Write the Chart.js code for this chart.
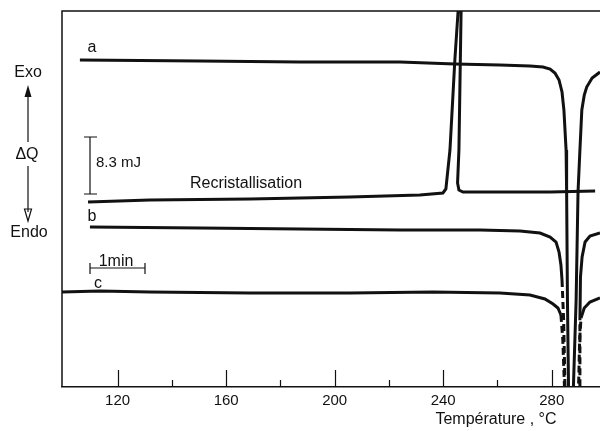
<!DOCTYPE html>
<html><head><meta charset="utf-8">
<script src="https://cdn.jsdelivr.net/npm/chart.js@4"></script>
<style>html,body{margin:0;padding:0;background:#fff}</style>
</head><body>
<canvas id="c" width="600" height="431"></canvas>
<script>
// Temperature (°C) tick values
const majorTicks = [120, 160, 200, 240, 280];
const minorTicks = [140, 180, 220, 260];

// Curves: [temperature °C, heat-flow signal (arbitrary units, Exo up)]
const curveA = [
  [106.1,327],[150.3,326],[187.2,325],[224.1,325],[244.3,323],[260.9,322],[272.0,321],
  [276.8,320],[279.4,318],[281.2,314],[282.7,307],[283.8,295],[284.5,277],[285.3,237],
  [285.5,195],[285.8,87],[286.2,0],[287.1,-33],[288.0,0],[289.0,87],[289.7,195],
  [290.4,237],[291.1,277],[292.0,292],[292.9,300],[294.9,309],[297.8,315]
];
const curveRecrist = [
  [109.1,185],[131.9,187],[168.8,188],[205.6,190],[231.4,192],[239.9,194],[241.0,198],
  [242.5,237],[244.3,327],[245.5,376],[246.2,407],[246.6,376],[245.8,237],[245.3,204],
  [245.8,197],[247.3,195],[260.9,195],[279.4,195],[296.0,196]
];
const curveB = [
  [109.8,160],[150.3,159],[187.2,158],[224.1,157],[253.6,157],[268.3,156],[275.7,154],
  [279.4,150],[281.6,145],[282.7,135],[283.4,122],[283.8,107],[284.4,67],[284.9,0],
  [287.5,-33],[290.1,0],[290.4,67],[290.6,110],[291.2,130],[292.3,145],[294.1,151],[297.8,154]
];
const curveC = [
  [99.5,95],[113.5,96],[131.9,95],[168.8,94],[205.6,94],[236.2,95],[260.9,94],[272.0,92],
  [277.5,88],[280.5,83],[282.3,79],[283.4,72],[284.1,47],[284.7,0],[287.5,-33],
  [289.9,0],[290.3,47],[290.8,69],[292.0,79],[294.1,85],[297.8,89]
];

const INK = '#111';
const toXY = arr => arr.map(p => ({x: p[0], y: p[1]}));
const dashBelow = lim => ({ borderDash: ctx => (ctx.p0.parsed.y < lim && ctx.p1.parsed.y < lim) ? [7,4] : undefined });

const ds = (data, extra) => Object.assign({
  data: toXY(data), showLine: true, borderColor: INK, borderWidth: 3,
  pointRadius: 0, tension: 0, fill: false
}, extra || {});

const decor = {
  id: 'decor',
  afterDraw(chart) {
    const ctx = chart.ctx, a = chart.chartArea, xs = chart.scales.x;
    ctx.save();
    ctx.strokeStyle = INK; ctx.fillStyle = INK; ctx.lineWidth = 1.5;
    // frame: left and top
    ctx.beginPath();
    ctx.moveTo(a.left, a.bottom); ctx.lineTo(a.left, a.top); ctx.lineTo(a.right, a.top);
    ctx.stroke();
    // inward ticks
    ctx.lineWidth = 1.2;
    majorTicks.forEach(v => { const px = Math.round(xs.getPixelForValue(v)) + 0.5;
      ctx.beginPath(); ctx.moveTo(px, a.bottom); ctx.lineTo(px, a.bottom - 17); ctx.stroke(); });
    minorTicks.forEach(v => { const px = Math.round(xs.getPixelForValue(v)) + 0.5;
      ctx.beginPath(); ctx.moveTo(px, a.bottom); ctx.lineTo(px, a.bottom - 7); ctx.stroke(); });

    ctx.textAlign = 'center'; ctx.textBaseline = 'middle';
    ctx.font = '16px "Liberation Sans", Arial, sans-serif';
    ctx.fillText('Température , °C', 496, 420);
    ctx.fillText('Exo', 28, 73);
    ctx.fillText('ΔQ', 27, 155);
    ctx.fillText('Endo', 29, 233);
    ctx.fillText('a', 92, 48);
    ctx.fillText('b', 92, 217);
    ctx.fillText('c', 98, 284);
    ctx.fillText('1min', 116, 262);
    ctx.textAlign = 'left';
    ctx.fillText('Recristallisation', 190, 184);
    ctx.font = '15px "Liberation Sans", Arial, sans-serif';
    ctx.fillText('8.3 mJ', 96, 163);

    // Exo/Endo arrows
    ctx.lineWidth = 1.2;
    ctx.beginPath(); ctx.moveTo(28, 142); ctx.lineTo(28, 94); ctx.stroke();
    ctx.beginPath(); ctx.moveTo(28, 85); ctx.lineTo(24.5, 97); ctx.lineTo(31.5, 97); ctx.closePath(); ctx.fill();
    ctx.beginPath(); ctx.moveTo(28, 166); ctx.lineTo(28, 212); ctx.stroke();
    ctx.beginPath(); ctx.moveTo(28, 221); ctx.lineTo(24.5, 209); ctx.lineTo(31.5, 209); ctx.closePath(); ctx.stroke();

    // energy scale bar
    ctx.beginPath();
    ctx.moveTo(90, 137); ctx.lineTo(90, 194);
    ctx.moveTo(84, 137); ctx.lineTo(97, 137);
    ctx.moveTo(84, 194); ctx.lineTo(97, 194);
    ctx.stroke();
    // time scale bar
    ctx.beginPath();
    ctx.moveTo(90, 268); ctx.lineTo(145, 268);
    ctx.moveTo(90, 263); ctx.lineTo(90, 274);
    ctx.moveTo(145, 263); ctx.lineTo(145, 274);
    ctx.stroke();
    ctx.restore();
  }
};

new Chart(document.getElementById('c'), {
  type: 'scatter',
  data: { datasets: [
    ds(curveA),
    ds(curveRecrist),
    ds(curveB, { segment: dashBelow(108) }),
    ds(curveC, { segment: dashBelow(74) })
  ]},
  options: {
    responsive: false, animation: false,
    layout: { padding: { left: 62, top: 11, right: 0, bottom: 0 } },
    plugins: { legend: { display: false }, tooltip: { enabled: false } },
    scales: {
      x: {
        type: 'linear', min: 99.5, max: 297.8,
        afterBuildTicks: s => { s.ticks = majorTicks.map(v => ({ value: v })); },
        afterFit: s => { s.height = 44; },
        grid: { display: false, drawTicks: false },
        border: { display: true, color: INK, width: 1.5 },
        ticks: { color: INK, padding: 5, font: { family: '"Liberation Sans", Arial, sans-serif', size: 15 } }
      },
      y: { display: false, min: 0, max: 376 }
    }
  },
  plugins: [decor]
});
</script>
</body></html>
